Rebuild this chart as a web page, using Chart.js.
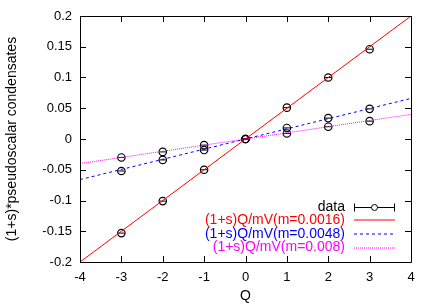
<!DOCTYPE html>
<html>
<head>
<meta charset="utf-8">
<script src="https://cdn.jsdelivr.net/npm/chart.js@4/dist/chart.umd.min.js"></script>
<style>
html,body{margin:0;padding:0;background:#fff;}
#wrap{width:436px;height:305px;}
</style>
</head>
<body>
<div id="wrap"><canvas id="c" width="436" height="305"></canvas></div>
<script>
// ---- data ----
const Q = [-3, -2, -1, 0, 1, 2, 3];
const data_m0016 = [-0.153, -0.101, -0.050, 0.000, 0.051, 0.100, 0.146];
const data_m0048 = [-0.052, -0.034, -0.018, 0.000, 0.018, 0.034, 0.049];
const data_m008  = [-0.030, -0.021, -0.010, 0.000, 0.009, 0.020, 0.029];
const fitX = [-4, 4];
const fit_m0016 = [-0.2, 0.2];
const fit_m0048 = [-0.066, 0.066];
const fit_m008  = [-0.040, 0.040];
const xTicks = [-4, -3, -2, -1, 0, 1, 2, 3, 4];
const yTicks = [-0.2, -0.15, -0.1, -0.05, 0, 0.05, 0.1, 0.15, 0.2];
const legendLabels = ['data', '(1+s)Q/mV(m=0.0016)', '(1+s)Q/mV(m=0.0048)', '(1+s)Q/mV(m=0.008)'];

const FONT = "'Liberation Sans', Arial, Helvetica, sans-serif";
const RED = '#ff0000', BLUE = '#0000ff', MAG = '#ff00ff';

const pts = (xs, ys) => xs.map((x, i) => ({x: x, y: ys[i]}));
const allData = [].concat(pts(Q, data_m0016), pts(Q, data_m0048), pts(Q, data_m008));

const framePlugin = {
  id: 'frame',
  afterDraw(chart) {
    const ctx = chart.ctx, a = chart.chartArea;
    const xs = chart.scales.x, ys = chart.scales.y;
    ctx.save();
    ctx.strokeStyle = '#000';
    ctx.lineWidth = 1;
    ctx.beginPath();
    ctx.rect(Math.round(a.left) + 0.5, Math.round(a.top) + 0.5, Math.round(a.right - a.left), Math.round(a.bottom - a.top));
    ctx.stroke();
    const tl = 6;
    ctx.beginPath();
    xTicks.forEach(v => {
      const px = Math.round(xs.getPixelForValue(v)) + 0.5;
      ctx.moveTo(px, a.bottom); ctx.lineTo(px, a.bottom - tl);
      ctx.moveTo(px, a.top); ctx.lineTo(px, a.top + tl);
    });
    yTicks.forEach(v => {
      const py = Math.round(ys.getPixelForValue(v)) + 0.5;
      ctx.moveTo(a.left, py); ctx.lineTo(a.left + tl, py);
      ctx.moveTo(a.right, py); ctx.lineTo(a.right - tl, py);
    });
    ctx.stroke();

    // legend
    const textRight = a.right - 66;
    const sx0 = a.right - 57, sx1 = a.right - 16;
    const rows = [a.bottom - 55, a.bottom - 42, a.bottom - 28, a.bottom - 14.5];
    const cols = ['#000', RED, BLUE, MAG];
    ctx.font = '14px ' + FONT;
    ctx.textAlign = 'right';
    ctx.textBaseline = 'middle';
    legendLabels.forEach((t, i) => {
      ctx.fillStyle = cols[i];
      ctx.fillText(t, textRight, rows[i]);
    });
    // data sample
    let y = Math.round(rows[0]) + 0.5;
    ctx.strokeStyle = '#000';
    ctx.setLineDash([]);
    ctx.beginPath();
    ctx.moveTo(sx0, y); ctx.lineTo(sx1, y);
    ctx.moveTo(sx0 + 0.5, y - 4); ctx.lineTo(sx0 + 0.5, y + 4);
    ctx.moveTo(sx1 - 0.5, y - 4); ctx.lineTo(sx1 - 0.5, y + 4);
    ctx.stroke();
    ctx.beginPath();
    ctx.arc((sx0 + sx1) / 2, y, 3, 0, Math.PI * 2);
    ctx.fillStyle = '#fff';
    ctx.fill();
    ctx.stroke();
    const dashes = [[], [3, 3], [1, 1]];
    [RED, BLUE, MAG].forEach((c, i) => {
      const yy = Math.round(rows[i + 1]);
      ctx.strokeStyle = c;
      ctx.setLineDash(dashes[i]);
      ctx.beginPath();
      ctx.moveTo(sx0, yy); ctx.lineTo(sx1, yy);
      ctx.stroke();
    });
    ctx.restore();
  }
};

new Chart(document.getElementById('c'), {
  type: 'scatter',
  data: {
    datasets: [
      { data: pts(fitX, fit_m0016), showLine: true, borderColor: RED, borderWidth: 1, pointRadius: 0, fill: false },
      { data: pts(fitX, fit_m0048), showLine: true, borderColor: BLUE, borderWidth: 1, borderDash: [3, 3], pointRadius: 0, fill: false },
      { data: pts(fitX, fit_m008), showLine: true, borderColor: MAG, borderWidth: 1, borderDash: [1, 1], pointRadius: 0, fill: false },
      { data: allData, showLine: false, pointStyle: 'line', pointRadius: 3, borderColor: '#000', borderWidth: 1, backgroundColor: '#000' },
      { data: allData, showLine: false, pointStyle: 'circle', pointRadius: 3.7, borderColor: '#000', borderWidth: 1.2, backgroundColor: 'rgba(0,0,0,0)' }
    ]
  },
  options: {
    responsive: false,
    animation: false,
    events: [],
    layout: { padding: { top: 16, right: 25, left: 0, bottom: 0 } },
    plugins: { legend: { display: false }, tooltip: { enabled: false } },
    scales: {
      x: {
        type: 'linear', min: -4, max: 4,
        afterFit(s) { s.height = 43; },
        afterBuildTicks(s) { s.ticks = xTicks.map(v => ({value: v})); },
        grid: { display: false, drawTicks: false },
        border: { display: false },
        ticks: { color: '#000', font: { family: FONT, size: 13 }, padding: 8, maxRotation: 0, callback: v => String(v) },
        title: { display: true, text: 'Q', color: '#000', font: { family: FONT, size: 14 }, padding: { top: 0, bottom: 0 } }
      },
      y: {
        type: 'linear', min: -0.2, max: 0.2,
        afterFit(s) { s.width = 80; },
        afterBuildTicks(s) { s.ticks = yTicks.map(v => ({value: v})); },
        grid: { display: false, drawTicks: false },
        border: { display: false },
        ticks: { color: '#000', font: { family: FONT, size: 13 }, padding: 8, callback: v => String(Number(v.toFixed(2))) },
        title: { display: true, text: '(1+s)*pseudoscalar condensates', color: '#000', font: { family: FONT, size: 14 }, padding: { top: 4, bottom: 0 } }
      }
    }
  },
  plugins: [framePlugin]
});
</script>
</body>
</html>
